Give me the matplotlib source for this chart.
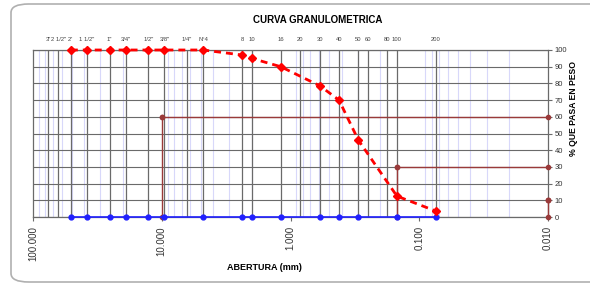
import numpy as np
import matplotlib.pyplot as plt
from matplotlib.patches import FancyBboxPatch
from matplotlib.ticker import LogLocator, FixedLocator, NullFormatter

plt.rcParams['font.family'] = ['Liberation Sans', 'DejaVu Sans']

# sieve series (top axis)
sieve_labels = ['3"', '2 1/2"', '2"', '1 1/2"', '1"', '3/4"', '1/2"', '3/8"', '1/4"', 'N°4',
                '8', '10', '16', '20', '30', '40', '50', '60', '80', '100', '200']
sieve_mm = [76.2, 63.5, 50.8, 38.1, 25.4, 19.05, 12.7, 9.525, 6.35, 4.76,
            2.38, 2.0, 1.19, 0.84, 0.59, 0.42, 0.297, 0.25, 0.177, 0.149, 0.074]

# grading curve
pass_mm = [50.8, 38.1, 25.4, 19.05, 12.7, 9.525, 4.76, 2.38, 2.0, 1.19, 0.59, 0.42, 0.297, 0.149, 0.074]
pass_pct = [100, 100, 100, 100, 100, 100, 100, 97, 95, 90, 78.5, 70, 46, 12.5, 3.5]

# D60 / D30 / D10 markers
d_pct = [60, 30, 10]
d_mm = [10.0, 0.15, 0.01]

x_ticks = [100, 10, 1, 0.1, 0.01]
x_ticklabels = ['100.000', '10.000', '1.000', '0.100', '0.010']

grid_c = '#6a6a6a'
dred = '#9a3a3a'

fig = plt.figure(figsize=(5.9, 2.86), dpi=100)
fig.patches.append(FancyBboxPatch((11 / 590, 4 / 286), 600 / 590, 278 / 286,
                                  boxstyle='round,pad=0,rounding_size=0.03',
                                  transform=fig.transFigure, fill=False,
                                  edgecolor='#b0b0b0', lw=1.2, clip_on=False))

ax = fig.add_axes([33 / 590, 1 - 217 / 286, 515 / 590, 167 / 286])
ax.set_xscale('log')
ax.set_xlim(100, 0.01)
ax.set_ylim(0, 100)

# light blue minor log grid
ax.xaxis.set_minor_locator(LogLocator(base=10, subs=np.arange(2, 10)))
ax.xaxis.set_minor_formatter(NullFormatter())
ax.grid(which='minor', axis='x', color='#d8d8fa', lw=0.8)
ax.set_yticks(np.arange(0, 101, 10))
ax.grid(which='major', axis='y', color=grid_c, lw=0.8)
ax.set_axisbelow(True)

# sieve lines
ax.vlines(sieve_mm, 0, 100, color=grid_c, lw=0.9, zorder=1)

# D lines
for p, d in zip(d_pct, d_mm):
    ax.plot([d, 0.01], [p, p], color=dred, lw=1, marker='o', ms=3, zorder=3, clip_on=False)
    ax.plot([d, d], [p, 0], color=dred, lw=1, marker='o', ms=3, zorder=3, clip_on=False)

# base line with sieve positions
ax.plot(pass_mm, [0] * len(pass_mm), color='#2020ff', lw=1.2, marker='o', ms=3.5,
        zorder=4, clip_on=False)

# curve
ax.plot(pass_mm, pass_pct, color='#ff0000', lw=2, ls=(0, (2.5, 1.8)), marker='D', ms=4.3,
        zorder=5, clip_on=False)

ax.set_xticks(x_ticks)
ax.set_xticklabels(x_ticklabels, rotation=90, fontsize=7, color='#333333')
ax.tick_params(axis='x', which='major', length=3, color=grid_c)
ax.tick_params(axis='x', which='minor', length=0)
ax.yaxis.tick_right()
ax.tick_params(axis='y', length=3, labelsize=5.5, colors='#333333', pad=2)
ax.tick_params(axis='y', color=grid_c)
for s in ax.spines.values():
    s.set_color(grid_c)
    s.set_linewidth(0.9)

# top sieve labels
top = ax.twiny()
top.set_xscale('log')
top.set_xlim(100, 0.01)
top.xaxis.set_major_locator(FixedLocator(sieve_mm))
top.xaxis.set_minor_locator(FixedLocator([]))
top.set_xticklabels(sieve_labels, fontsize=4.2, color='#444444')
top.tick_params(axis='x', length=0, pad=6)
for s in top.spines.values():
    s.set_visible(False)

fig.text(318 / 590, 1 - 20 / 286, 'CURVA GRANULOMETRICA', ha='center', va='center',
         fontsize=7, fontweight='bold')
fig.text(264 / 590, 1 - 268 / 286, 'ABERTURA (mm)', ha='center', va='center',
         fontsize=6.5, fontweight='bold')
fig.text(574 / 590, 1 - 109 / 286, '% QUE PASA EN PESO', ha='center', va='center',
         rotation=90, fontsize=6.2, fontweight='bold')

fig.savefig('out.png', dpi=100)
